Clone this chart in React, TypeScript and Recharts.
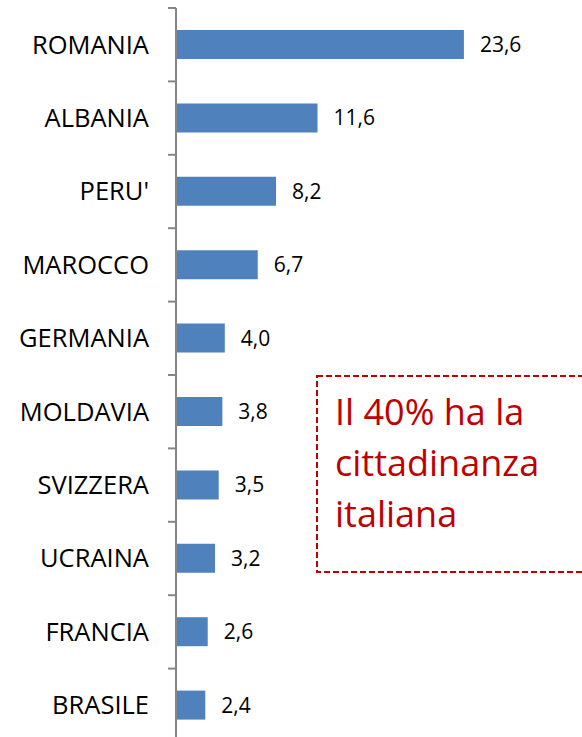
import React from "react";
import { BarChart, Bar, XAxis, YAxis, LabelList, Customized } from "recharts";

const countries = ["ROMANIA", "ALBANIA", "PERU'", "MAROCCO", "GERMANIA", "MOLDAVIA", "SVIZZERA", "UCRAINA", "FRANCIA", "BRASILE"];
const values = [23.6, 11.6, 8.2, 6.7, 4.0, 3.8, 3.5, 3.2, 2.6, 2.4];
const noteLines = ["Il 40% ha la", "cittadinanza", "italiana"];

const data = countries.map((c, i) => ({ country: c, value: values[i] }));

const FONT = "'Open Sans', sans-serif";

const CategoryTick = (props: any) => {
  const { x, y, payload } = props;
  const off = payload && payload.offset ? payload.offset : 0;
  return (
    <g>
      <line x1={x - 8} x2={x} y1={y - off} y2={y - off} stroke="#868686" strokeWidth={2} />
      <text x={x - 27} y={y} dy="0.35em" textAnchor="end" fontFamily={FONT} fontSize={25.5} fill="#000">
        {payload.value}
      </text>
    </g>
  );
};

const Note = () => (
  <g>
    <rect x={317} y={376} width={300} height={196} fill="none" stroke="#C00000" strokeWidth={2} strokeDasharray="6 3" />
    {noteLines.map((t, i) => (
      <text key={i} x={335} y={425 + i * 51} fontFamily={FONT} fontSize={36} fill="#C00000">
        {t}
      </text>
    ))}
  </g>
);

export default function App() {
  return (
    <div style={{ position: "absolute", left: 0, top: 0, width: 582, height: 737, overflow: "hidden", background: "#fff" }}>
      <BarChart
        width={582}
        height={742}
        data={data}
        layout="vertical"
        margin={{ top: 8, right: 40, bottom: 0, left: 0 }}
        barCategoryGap={22}
      >
        <XAxis type="number" domain={[0, 30]} hide />
        <YAxis
          type="category"
          dataKey="country"
          width={176}
          axisLine={{ stroke: "#868686", strokeWidth: 2 }}
          tickLine={false}
          tickSize={0}
          tickMargin={0}
          tick={<CategoryTick />}
          interval={0}
        />
        <Bar dataKey="value" fill="#4F81BD" barSize={29} isAnimationActive={false}>
          <LabelList
            dataKey="value"
            position="right"
            offset={16}
            formatter={(v: any) => Number(v).toFixed(1).replace(".", ",")}
            style={{ fontFamily: FONT, fontSize: 21, fill: "#000" }}
          />
        </Bar>
        <Customized component={Note} />
      </BarChart>
    </div>
  );
}
